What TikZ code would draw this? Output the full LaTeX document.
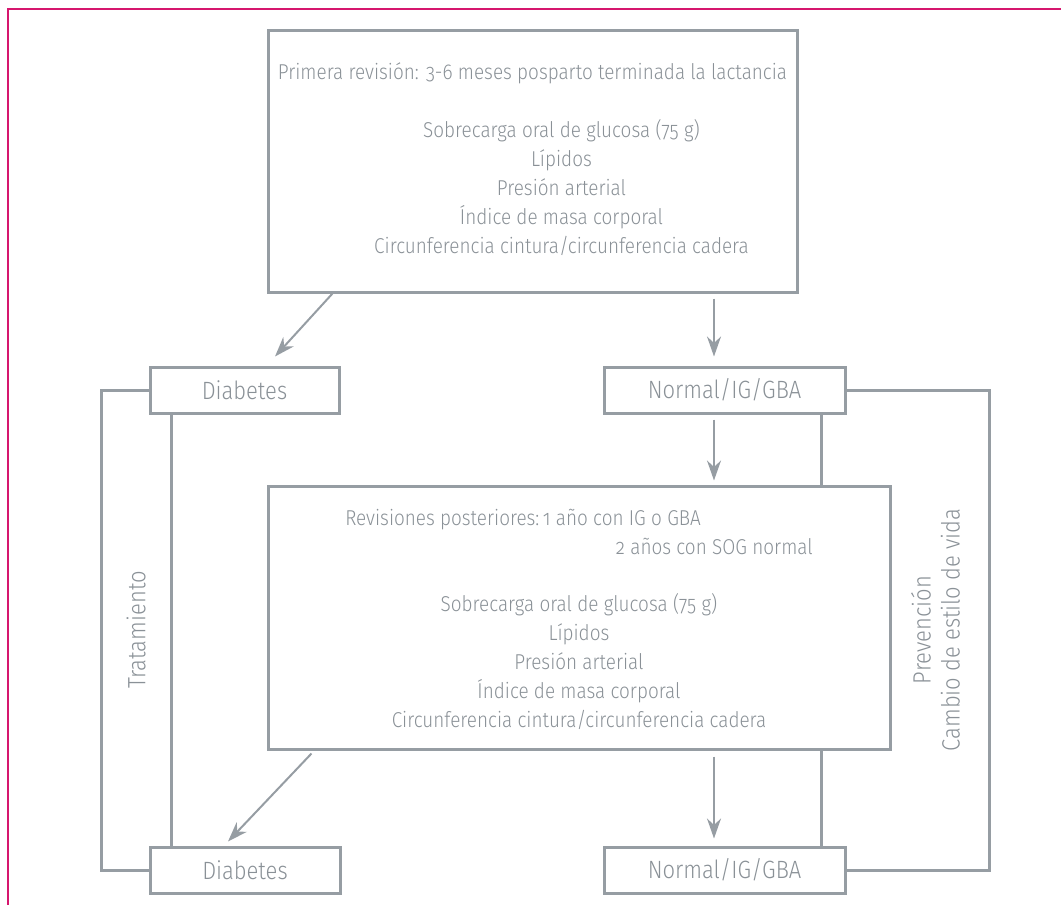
\documentclass[tikz,border=0pt]{standalone}
\usepackage{fontspec}
\usepackage{array}
\setmainfont{Fira Sans}[UprightFont=* Light, Numbers=OldStyle, FakeStretch=0.88]
\usetikzlibrary{arrows.meta}
\definecolor{gris}{RGB}{150,157,163}
\definecolor{gristexto}{RGB}{138,145,151}
\definecolor{magenta}{RGB}{214,22,110}
\begin{document}
\begin{tikzpicture}[x=1pt,y=-1pt,font=\fontsize{21.5}{29}\selectfont,text=gristexto,
  caja/.style={draw=gris,line width=3pt,align=center,inner sep=0pt},
  res/.style={draw=gris,line width=3pt,minimum height=46pt,inner sep=0pt,font=\fontsize{25}{29}\selectfont},
  etiq/.style={rotate=90,align=center,font=\fontsize{25}{29}\selectfont},
  flecha/.style={draw=gris,line width=2pt,-{Stealth[length=20pt,width=14pt]}},
  linea/.style={draw=gris,line width=3pt}]
  \useasboundingbox (0,0) rectangle (1061,905);
  \draw[magenta,line width=2pt] (8,905) -- (8,9) -- (1061,9);
  \node[caja,minimum width=529pt,minimum height=262pt] (prim) at (532.5,161){\begin{tabular}{@{}>{\hspace*{58pt}}c@{}}\multicolumn{1}{@{}c@{}}{Primera revisión: 3-6 meses posparto terminada la lactancia}\\[29pt]Sobrecarga oral de glucosa (75 g)\\Lípidos\\Presión arterial\\Índice de masa corporal\\Circunferencia cintura/circunferencia cadera\end{tabular}};
  \node[res,minimum width=189pt] (dia1) at (244.5,390){Diabetes};
  \node[res,minimum width=241pt] (nor1) at (724.5,390){Normal/IG/GBA};
  \node[caja,minimum width=622pt,minimum height=263pt] (post) at (579,617.5){\begin{tabular}{@{}r@{\,}l@{}}Revisiones posteriores: & 1 año con IG o GBA\\ & \hspace*{73pt}2 años con SOG normal\end{tabular}\\[29pt]Sobrecarga oral de glucosa (75 g)\\Lípidos\\Presión arterial\\Índice de masa corporal\\Circunferencia cintura/circunferencia cadera};
  \node[res,minimum width=190pt] (dia2) at (245,870){Diabetes};
  \node[res,minimum width=241pt] (nor2) at (724.5,870){Normal/IG/GBA};
  \node[etiq] (trat) at (136,630){Tratamiento};
  \node[etiq] (prev) at (935.5,630){Prevención\\Cambio de estilo de vida};
  % flechas
  \draw[flecha] ([xshift=66pt]prim.south west) -- ([xshift=30.5pt,yshift=9pt]dia1.north);
  \draw[flecha] ([xshift=181.5pt,yshift=-5pt]prim.south) -- ([xshift=-10.5pt,yshift=9pt]nor1.north);
  \draw[flecha] ([xshift=-10.5pt,yshift=-5pt]nor1.south) -- ([xshift=135pt,yshift=4pt]post.north);
  \draw[flecha] ([xshift=45pt,yshift=-3pt]post.south west) -- ([xshift=-17pt,yshift=4pt]dia2.north);
  \draw[flecha] ([xshift=135pt,yshift=-6pt]post.south) -- ([xshift=-10.5pt,yshift=7pt]nor2.north);
  % lineas
  \draw[linea] (dia1.west) -- ++(-47,0) |- (dia2.west);
  \draw[linea] ([xshift=-73.5pt]dia1.south) coordinate (d1b) -- (d1b |- dia2.north);
  \draw[linea] (nor1.east) -- ++(143,0) |- (nor2.east);
  \draw[linea] ([xshift=96.5pt]nor1.south) coordinate (n1b) -- (n1b |- post.north);
  \draw[linea] ([xshift=96.5pt]nor2.north) coordinate (n2t) -- (n2t |- post.south);
\end{tikzpicture}
\end{document}
